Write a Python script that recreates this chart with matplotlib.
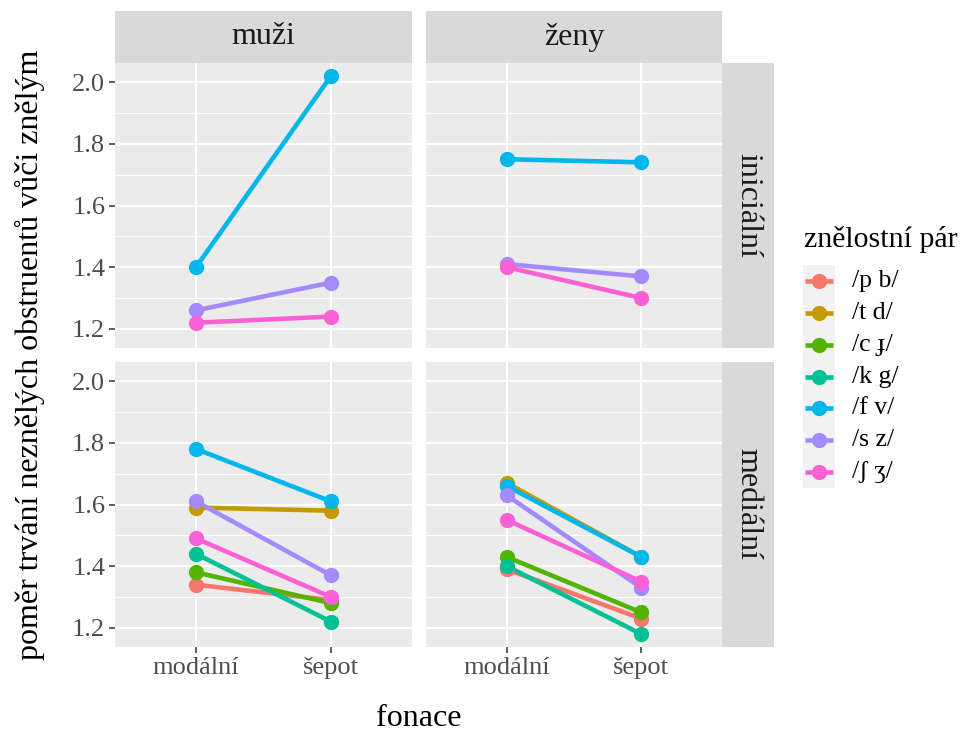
import matplotlib.pyplot as plt
from matplotlib.patches import Rectangle

plt.rcParams['font.family'] = ['Liberation Serif', 'DejaVu Serif']

# fonace na ose x
fonace = ['modální', 'šepot']
pohlavi = ['muži', 'ženy']
pozice = ['iniciální', 'mediální']

pary = ['/p b/', '/t d/', '/c ɟ/', '/k g/', '/f v/', '/s z/', '/ʃ ʒ/']
barvy = ['#F8766D', '#C49A00', '#53B400', '#00C094', '#00B6EB', '#A58AFF', '#FB61D7']

# poměry (modální, šepot) pro každý pár; None = pár v dané pozici chybí
muzi_inic = [None, None, None, None, (1.40, 2.02), (1.26, 1.35), (1.22, 1.24)]
zeny_inic = [None, None, None, None, (1.75, 1.74), (1.41, 1.37), (1.40, 1.30)]
muzi_med = [(1.34, 1.29), (1.59, 1.58), (1.38, 1.28), (1.44, 1.22),
            (1.78, 1.61), (1.61, 1.37), (1.49, 1.30)]
zeny_med = [(1.39, 1.23), (1.67, 1.43), (1.43, 1.25), (1.40, 1.18),
            (1.66, 1.43), (1.63, 1.33), (1.55, 1.35)]

y_ticks = [1.2, 1.4, 1.6, 1.8, 2.0]

W, H = 971, 735
fig = plt.figure(figsize=(W / 100, H / 100), dpi=100)


def px_box(x0, y0, x1, y1):
    return [x0 / W, 1 - y1 / H, (x1 - x0) / W, (y1 - y0) / H]


panel_x = [(115, 412), (426, 722)]
panel_y = [(63, 348), (362, 647)]
data = {(0, 0): muzi_inic, (0, 1): zeny_inic, (1, 0): muzi_med, (1, 1): zeny_med}

for r in range(2):
    for c in range(2):
        ax = fig.add_axes(px_box(panel_x[c][0], panel_y[r][0], panel_x[c][1], panel_y[r][1]))
        ax.set_facecolor('#EBEBEB')
        for s in ax.spines.values():
            s.set_visible(False)
        ax.set_xlim(-0.6, 1.6)
        ax.set_ylim(1.138, 2.062)
        ax.set_xticks([0, 1])
        ax.set_yticks(y_ticks)
        ax.set_yticks([1.3, 1.5, 1.7, 1.9], minor=True)
        ax.grid(True, which='major', color='white', linewidth=1.5)
        ax.grid(True, which='minor', color='white', linewidth=0.75)
        ax.set_axisbelow(True)
        ax.tick_params(which='minor', length=0)
        ax.tick_params(which='major', length=4, width=1.1, color='#333333',
                       labelsize=19, labelcolor='#4D4D4D', pad=3)
        if c == 0:
            ax.set_yticklabels(['1.2', '1.4', '1.6', '1.8', '2.0'])
        else:
            ax.tick_params(axis='y', length=0, labelleft=False)
        if r == 1:
            ax.set_xticklabels(fonace)
        else:
            ax.tick_params(axis='x', length=0, labelbottom=False)

        hodnoty = data[(r, c)]
        for i, v in enumerate(hodnoty):
            if v is not None:
                ax.plot([0, 1], v, color=barvy[i], linewidth=3.3, solid_capstyle='butt', zorder=2)
        for i, v in enumerate(hodnoty):
            if v is not None:
                ax.plot([0, 1], v, 'o', color=barvy[i], markersize=10, zorder=3)

# popisky panelů
for c in range(2):
    sx = fig.add_axes(px_box(panel_x[c][0], 11, panel_x[c][1], 63))
    sx.set_facecolor('#D9D9D9')
    sx.set_xticks([])
    sx.set_yticks([])
    for s in sx.spines.values():
        s.set_visible(False)
    sx.text(0.5, 0.5, pohlavi[c], ha='center', va='center', fontsize=23, color='#1A1A1A',
            transform=sx.transAxes)
for r in range(2):
    sy = fig.add_axes(px_box(722, panel_y[r][0], 774, panel_y[r][1]))
    sy.set_facecolor('#D9D9D9')
    sy.set_xticks([])
    sy.set_yticks([])
    for s in sy.spines.values():
        s.set_visible(False)
    sy.text(0.5, 0.5, pozice[r], ha='center', va='center', fontsize=23, color='#1A1A1A',
            rotation=-90, transform=sy.transAxes)

# popisky os
fig.text(418.5 / W, 1 - 718 / H, 'fonace', ha='center', va='center', fontsize=23)
fig.text(30 / W, 1 - 355 / H, 'poměr trvání neznělých obstruentů vůči znělým',
         ha='center', va='center', rotation=90, fontsize=23)

# legenda
fig.text(804 / W, 1 - 240 / H, 'znělostní pár', ha='left', va='center', fontsize=21.5)
lg = fig.add_axes(px_box(803, 265, 835, 488))
lg.set_xlim(0, 1)
lg.set_ylim(len(pary), 0)
lg.set_facecolor('#F2F2F2')
lg.set_xticks([])
lg.set_yticks([])
for s in lg.spines.values():
    s.set_visible(False)
for i, (p, b) in enumerate(zip(pary, barvy)):
    lg.plot([0.05, 0.95], [i + 0.5, i + 0.5], color=b, linewidth=3.3, solid_capstyle='butt')
    lg.plot([0.5], [i + 0.5], 'o', color=b, markersize=10)
    fig.text(852 / W, 1 - (265 + (i + 0.5) * 223 / 7) / H, p, ha='left', va='center', fontsize=18.5)

fig.savefig('out.png', dpi=100)
